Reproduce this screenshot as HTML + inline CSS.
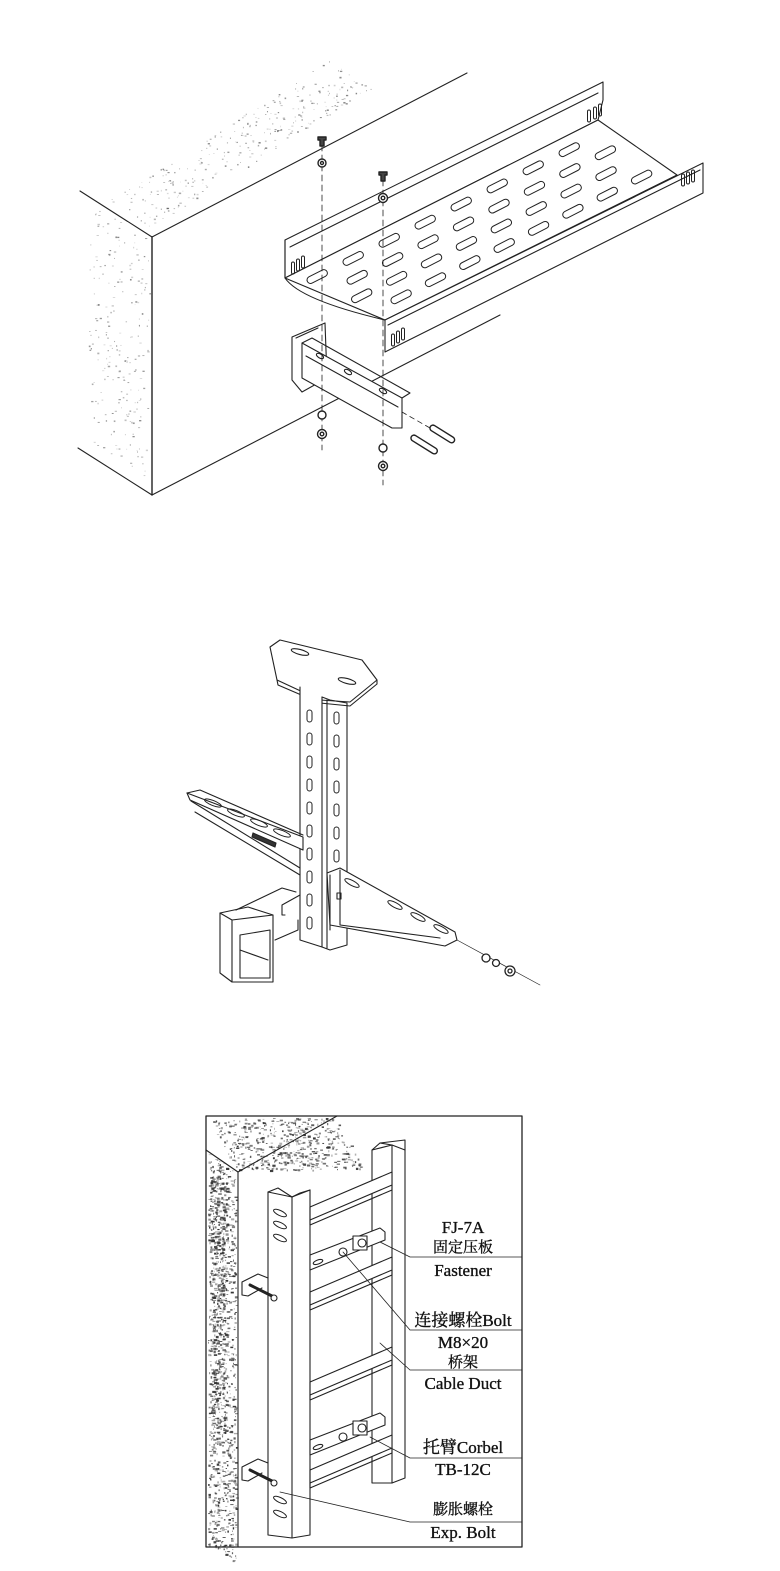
<!DOCTYPE html>
<html><head><meta charset="utf-8"><style>
html,body{margin:0;padding:0;background:#fff;}
svg{display:block;}
text{font-family:"Liberation Serif","Noto Serif CJK SC",serif;fill:#111;}
</style></head><body>
<svg id="s" width="780" height="1571" viewBox="0 0 780 1571" xmlns="http://www.w3.org/2000/svg" fill="none" stroke="#222" stroke-width="1.1" stroke-linejoin="round" stroke-linecap="round">
<g id="speck" stroke="none" fill="#333"></g>

<!-- ===== Figure 1: wall + tray ===== -->
<line x1="80" y1="191" x2="152" y2="237"/>
<line x1="152" y1="237" x2="467" y2="73"/>
<line x1="152" y1="237" x2="152" y2="495" stroke-width="1.4"/>
<line x1="78" y1="448" x2="152" y2="495"/>
<line x1="152" y1="495" x2="500" y2="315"/>

<!-- tray -->
<g fill="#fff">
<path d="M285,240 L603,82 L603,100 L598,120 L285,278 Z"/>
<path d="M285,278 L598,120 L677,175 L385,320 Z"/>
<path d="M385,320 L703,163 L703,193 L385,352 Z"/>
</g>
<path d="M285,240 L285,278 Q300,300 385,320"/>
<line x1="290" y1="247" x2="598" y2="93"/>
<line x1="388" y1="325" x2="700" y2="170"/>
<g id="traySlots" stroke-width="1"></g>

<!-- bracket -->
<path d="M292,337 L325,323 L327,378 L302,392 L292,380 Z" fill="#fff"/>
<path d="M296,338 L318,328"/>
<path d="M302,343 L402,398 L402,428 L392,428 L302,378 Z" fill="#fff"/>
<path d="M302,343 L312,338 L410,393 L402,398"/>
<line x1="306" y1="356" x2="398" y2="407"/>
<ellipse cx="320" cy="356" rx="4" ry="2" transform="rotate(30 320 356)"/>
<ellipse cx="348" cy="372" rx="4" ry="2" transform="rotate(30 348 372)"/>
<ellipse cx="383" cy="391" rx="4" ry="2" transform="rotate(30 383 391)"/>

<!-- dashed bolt lines -->
<line x1="322" y1="145" x2="322" y2="450" stroke-dasharray="6,4" stroke-width="0.8"/>
<line x1="383" y1="180" x2="383" y2="485" stroke-dasharray="6,4" stroke-width="0.8"/>
<line x1="402" y1="412" x2="430" y2="428" stroke-dasharray="5,4" stroke-width="0.8"/>
<g fill="#fff" stroke-width="1.4">
<path d="M318,137 h8 v3 h-2 v6 h-4 v-6 h-2 z" fill="#444"/>
<circle cx="322" cy="163" r="4"/><circle cx="322" cy="163" r="1.5"/>
<circle cx="322" cy="415" r="4"/>
<circle cx="322" cy="434" r="4.5"/><circle cx="322" cy="434" r="1.8"/>
<path d="M379,172 h8 v3 h-2 v6 h-4 v-6 h-2 z" fill="#444"/>
<circle cx="383" cy="198" r="4.5"/><circle cx="383" cy="198" r="1.8"/>
<circle cx="383" cy="448" r="4"/>
<circle cx="383" cy="466" r="4.5"/><circle cx="383" cy="466" r="1.8"/>
<rect x="413" y="434" width="30" height="6" rx="3" transform="rotate(32 413 434)"/>
<rect x="432" y="424" width="28" height="6" rx="3" transform="rotate(32 432 424)"/>
</g>

<!-- ===== Figure 2: ceiling hanger ===== -->
<path d="M270,647 L280,640 L362,660 L377,680 L350,702 L320,700 L277,680 Z" fill="#fff"/>
<path d="M277,680 L278,685 L320,703 L350,706 L377,684 L377,680"/>
<ellipse cx="300" cy="652" rx="9" ry="2.5" transform="rotate(15 300 652)"/>
<ellipse cx="347" cy="681" rx="9" ry="2.5" transform="rotate(15 347 681)"/>
<path d="M300,687 L300,940 L322,947 L322,697" fill="#fff"/>
<path d="M322,697 L330,700 L347,703 L347,945 L330,950 L322,947"/>
<line x1="327" y1="700" x2="327" y2="948"/>
<g id="colSlots" stroke-width="1"></g>
<!-- left arm -->
<path d="M187,793 L190,800 L303,850 L303,837 L187,793" fill="#fff"/>
<path d="M187,793 L200,790 L303,835"/>
<path d="M191,801 L300,868"/>
<path d="M195,812 L300,875"/>
<g stroke-width="1"><ellipse cx="213" cy="803" rx="9" ry="2.5" transform="rotate(22 213 803)"/>
<ellipse cx="236" cy="813" rx="9" ry="2.5" transform="rotate(22 236 813)"/>
<ellipse cx="259" cy="823" rx="9" ry="2.5" transform="rotate(22 259 823)"/>
<ellipse cx="282" cy="833" rx="9" ry="2.5" transform="rotate(22 282 833)"/></g>
<path d="M252,837 L275,847 L276,843 L253,833 Z" fill="#333"/>
<!-- right arm -->
<path d="M327,873 L340,868 L455,932 L457,940 L445,946 L330,925 Z" fill="#fff"/>
<path d="M330,875 L330,930"/>
<path d="M340,870 L340,925 L440,938"/>
<g stroke-width="1"><ellipse cx="352" cy="883" rx="8" ry="2.5" transform="rotate(28 352 883)"/>
<ellipse cx="395" cy="905" rx="8" ry="2.5" transform="rotate(28 395 905)"/>
<ellipse cx="418" cy="917" rx="8" ry="2.5" transform="rotate(28 418 917)"/>
<ellipse cx="441" cy="929" rx="8" ry="2.5" transform="rotate(28 441 929)"/></g>
<rect x="337" y="893" width="4" height="6"/>
<path d="M457,940 L540,985" stroke-width="0.7"/>
<g fill="#fff" stroke-width="1.3"><circle cx="486" cy="958" r="4"/><circle cx="496" cy="963" r="3.5"/><circle cx="510" cy="971" r="5"/><circle cx="510" cy="971" r="2"/></g>
<!-- box + connectors -->
<path d="M220,913 L248,907 L273,915 L273,982 L232,982 L220,973 Z" fill="#fff"/>
<path d="M220,913 L232,920 L273,915 M232,920 L232,982"/>
<path d="M240,935 L270,930 L270,978 L240,978 Z"/>
<path d="M240,950 L268,960"/>
<path d="M236,910 L282,888 L296,892 M285,915 L282,915 L282,905 L300,895"/>
<path d="M275,940 L298,930 L298,920"/>

<!-- ===== Figure 3: vertical ladder ===== -->
<rect x="206" y="1116" width="316" height="431" stroke-width="1.3"/>
<path d="M206,1150 L238,1172 L337,1116"/>
<line x1="238" y1="1172" x2="238" y2="1547"/>
<!-- right rail -->
<path d="M372,1150 L372,1483 L392,1483 L392,1145 Z" fill="#fff"/>
<path d="M380,1143 L405,1140 L405,1478 L392,1483"/>
<path d="M372,1150 L380,1143 L392,1145 L405,1150"/>
<g id="rungs" fill="#fff"></g>
<!-- left rail -->
<path d="M268,1192 L268,1535 L292,1538 L292,1197 Z" fill="#fff"/>
<path d="M292,1197 L310,1190 L310,1535 L292,1538"/>
<path d="M268,1192 L278,1188 L292,1197 L300,1193 L310,1190"/>
<g stroke-width="1"><ellipse cx="280" cy="1213" rx="7" ry="2.5" transform="rotate(25 280 1213)"/>
<ellipse cx="280" cy="1225" rx="7" ry="2.5" transform="rotate(25 280 1225)"/>
<ellipse cx="280" cy="1238" rx="7" ry="2.5" transform="rotate(25 280 1238)"/>
<ellipse cx="280" cy="1500" rx="7" ry="2.5" transform="rotate(25 280 1500)"/>
<ellipse cx="280" cy="1514" rx="7" ry="2.5" transform="rotate(25 280 1514)"/></g>
<path d="M242,1282 L258,1274 L268,1278 M242,1282 L242,1295 L248,1296 L262,1288" fill="#fff"/>
<path d="M250,1285 L272,1296" stroke-width="3"/><circle cx="274" cy="1298" r="3" fill="#fff"/>
<path d="M242,1467 L258,1459 L268,1463 M242,1467 L242,1480 L248,1481 L262,1473" fill="#fff"/>
<path d="M250,1470 L272,1481" stroke-width="3"/><circle cx="274" cy="1483" r="3" fill="#fff"/>
<g fill="#fff">
<path d="M310,1255 L380,1228 L385,1232 L385,1240 L310,1270 Z"/>
<rect x="353" y="1236" width="14" height="14"/>
<circle cx="343" cy="1252" r="4"/><circle cx="362" cy="1243" r="4"/>
<path d="M310,1440 L380,1413 L385,1417 L385,1425 L310,1455 Z"/>
<rect x="353" y="1421" width="14" height="14"/>
<circle cx="343" cy="1437" r="4"/><circle cx="362" cy="1428" r="4"/>
</g>
<ellipse cx="318" cy="1262" rx="5" ry="2" transform="rotate(-20 318 1262)"/>
<ellipse cx="318" cy="1447" rx="5" ry="2" transform="rotate(-20 318 1447)"/>
<g stroke-width="0.8">
<path d="M522,1257 L410,1257 L380,1242"/>
<path d="M522,1330 L410,1330 L343,1252"/>
<path d="M522,1370 L410,1370 L380,1343"/>
<path d="M522,1458 L410,1458 L370,1437"/>
<path d="M522,1522 L410,1522 L280,1492"/>
</g>
<g font-size="17" text-anchor="middle" stroke="#111" stroke-width="0.35">
<text x="463" y="1233">FJ-7A</text>
<text x="463" y="1252" font-size="15">固定压板</text>
<text x="463" y="1276">Fastener</text>
<text x="463" y="1326">连接螺栓Bolt</text>
<text x="463" y="1348">M8×20</text>
<text x="463" y="1367" font-size="15">桥架</text>
<text x="463" y="1389">Cable Duct</text>
<text x="463" y="1453">托臂Corbel</text>
<text x="463" y="1475">TB-12C</text>
<text x="463" y="1514" font-size="15">膨胀螺栓</text>
<text x="463" y="1538">Exp. Bolt</text>
</g>
</svg>
<script>
(function(){
var NS="http://www.w3.org/2000/svg";
var seed=7;function r(){seed=(seed*16807)%2147483647;return seed/2147483647;}
function el(p,t,a){var e=document.createElementNS(NS,t);for(var k in a)e.setAttribute(k,a[k]);p.appendChild(e);return e;}
var sp=document.getElementById("speck");
function quad(n,A,B,C,op,size){for(var i=0;i<n;i++){var u=r(),v=r();var x=A[0]+u*(B[0]-A[0])+v*(C[0]-A[0]);var y=A[1]+u*(B[1]-A[1])+v*(C[1]-A[1]);el(sp,"rect",{x:x,y:y,width:(0.6+r()*size),height:(0.6+r()*size*0.6),opacity:op*(0.3+r()*0.7)});}}
quad(300,[110,200],[152,228],[330,60],0.6,1.8);
quad(220,[90,200],[150,240],[88,440],0.6,1.8);
quad(550,[208,1118],[336,1118],[236,1170],0.95,2.8);
quad(900,[208,1152],[236,1170],[208,1545],1,2.8);
quad(400,[210,1160],[226,1170],[210,1440],1,3.2);
// tray slots (bilinear on floor)
var ts=document.getElementById("traySlots");
var P0=[285,278],P1=[598,120],P2=[677,175],P3=[385,320];
function bl(s,t){return [P0[0]*(1-s)*(1-t)+P1[0]*s*(1-t)+P2[0]*s*t+P3[0]*(1-s)*t, P0[1]*(1-s)*(1-t)+P1[1]*s*(1-t)+P2[1]*s*t+P3[1]*(1-s)*t];}
for(var row=0;row<4;row++){for(var c=0;c<8;c++){var s=(c+0.45+(row%2)*0.5)/8.6;var t=0.16+row*0.225;if(s>0.95)continue;var p=bl(s,t);
el(ts,"rect",{x:p[0]-11,y:p[1]-3.5,width:22,height:7,rx:3.5,transform:"rotate(-27 "+p[0]+" "+p[1]+")",fill:"#fff"});}}
[[293,268],[298,265],[303,262],[393,340],[398,337],[403,334],[595,113],[600,110],[589,116],[683,180],[688,178],[693,176]].forEach(function(p){el(ts,"rect",{x:p[0]-1.5,y:p[1]-6,width:3,height:12,rx:1.5});});
var cs=document.getElementById("colSlots");
for(var i=0;i<10;i++){el(cs,"rect",{x:307,y:710+i*23,width:5,height:12,rx:2.5});}
for(var i=0;i<9;i++){el(cs,"rect",{x:334,y:712+i*23,width:5,height:12,rx:2.5});}
var rg=document.getElementById("rungs");
[1207,1292,1382,1470].forEach(function(y){
el(rg,"path",{d:"M310,"+y+" L392,"+(y-35)+" L392,"+(y-22)+" L310,"+(y+13)+" Z"});
el(rg,"path",{d:"M310,"+(y+13)+" L310,"+(y+18)+" L392,"+(y-17)+" L392,"+(y-22),fill:"none"});
});
})();
</script>
</body></html>
